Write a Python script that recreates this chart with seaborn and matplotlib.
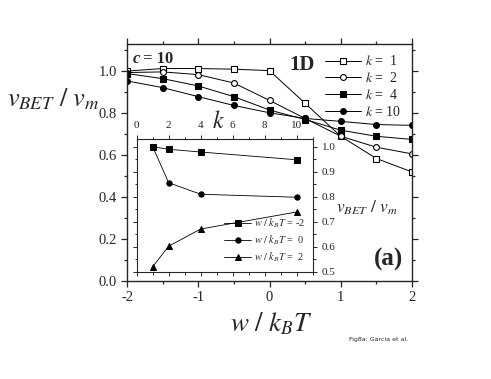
import numpy as np
import pandas as pd
import matplotlib
matplotlib.use("Agg")
import matplotlib.pyplot as plt
import seaborn as sns
from matplotlib.ticker import MultipleLocator

# main panel: v_BET/v_m against w/k_BT for several k
w_vals = [-2, -1.5, -1, -0.5, 0, 0.5, 1, 1.5, 2]
k1 = [1.001, 1.013, 1.013, 1.010, 1.003, 0.847, 0.690, 0.584, 0.520]
k2 = [0.994, 0.997, 0.984, 0.944, 0.861, 0.775, 0.690, 0.638, 0.606]
k4 = [0.989, 0.965, 0.930, 0.879, 0.815, 0.770, 0.719, 0.690, 0.675]
k10 = [0.954, 0.922, 0.879, 0.837, 0.802, 0.775, 0.761, 0.746, 0.742]

# inset: v_BET/v_m against k for several w/k_BT
k_vals = [1, 2, 4, 10]
w_m2 = [1.000, 0.990, 0.979, 0.948]
w_0 = [1.000, 0.856, 0.810, 0.798]
w_p2 = [0.520, 0.602, 0.671, 0.739]

sns.set_style("ticks")
plt.rcParams['font.family'] = ['Liberation Serif', 'DejaVu Serif']
plt.rcParams['mathtext.fontset'] = 'stix'

fig = plt.figure(figsize=(4.91, 3.79), dpi=100)
ax = fig.add_axes([0.2587, 0.2586, 0.5804, 0.6253])

main_series = [
    (k1, 's', 'white', r'$k$ =  1'),
    (k2, 'o', 'white', r'$k$ =  2'),
    (k4, 's', 'black', r'$k$ =  4'),
    (k10, 'o', 'black', r'$k$ = 10'),
]
for vals, mk, fc, lab in main_series:
    sns.lineplot(x=w_vals, y=vals, ax=ax, color='black', lw=0.7, marker=mk,
                 markersize=4.2, markerfacecolor=fc, markeredgecolor='black',
                 markeredgewidth=0.8, label=lab)

ax.set_xlim(-2, 2)
ax.set_ylim(0, 1.13)
ax.xaxis.set_minor_locator(MultipleLocator(0.5))
ax.yaxis.set_minor_locator(MultipleLocator(0.1))
ax.set_xticks([-2, -1, 0, 1, 2])
ax.set_xticklabels(['-2', '-1', '0', '1', '2'])
ax.set_yticks(np.arange(0, 1.01, 0.2))
ax.set_yticklabels(['0.0', '0.2', '0.4', '0.6', '0.8', '1.0'])
ax.tick_params(which='both', direction='out', top=True, right=True, labelsize=10.5, width=0.9)
ax.tick_params(which='major', length=4)
ax.tick_params(which='minor', length=2.5)
for s in ax.spines.values():
    s.set_linewidth(1.0)
    s.set_visible(True)
ax.set_xlabel('')
ax.set_ylabel('')

ax.legend(loc='upper right', frameon=False, fontsize=10, handlelength=2.6,
          handletextpad=0.3, labelspacing=0.2, borderaxespad=0.35)

ax.text(0.02, 0.92, 'c', transform=ax.transAxes, fontsize=12,
        fontweight='bold', fontstyle='italic')
ax.text(0.055, 0.92, '= 10', transform=ax.transAxes, fontsize=12, fontweight='bold')
ax.text(0.57, 0.89, '1D', transform=ax.transAxes, fontsize=15, fontweight='bold')
ax.text(0.865, 0.065, '(a)', transform=ax.transAxes, fontsize=18, fontweight='bold')

fig.text(0.552, 0.125, r'$w\ /\ k_B T$', fontsize=19.5, ha='center')
fig.text(0.015, 0.72, r'$v_{BET}\ /\ v_m$', fontsize=19)
fig.text(0.71, 0.10, 'Fig8a: Garcia et al.', fontsize=4.5, family='DejaVu Sans')

# inset
ins = fig.add_axes([0.2784, 0.2831, 0.3585, 0.3494])
inset_series = [
    (w_m2, 's', r'$w\ /\ k_B T$ = -2'),
    (w_0, 'o', r'$w\ /\ k_B T$ =  0'),
    (w_p2, '^', r'$w\ /\ k_B T$ =  2'),
]
for vals, mk, lab in inset_series:
    sns.lineplot(x=k_vals, y=vals, ax=ins, color='black', lw=0.6, marker=mk,
                 markersize=3.8, markerfacecolor='black', markeredgecolor='black',
                 label=lab)
ins.set_xlim(0, 11)
ins.set_ylim(0.5, 1.03)
ins.xaxis.set_major_locator(MultipleLocator(2))
ins.xaxis.set_minor_locator(MultipleLocator(1))
ins.yaxis.set_minor_locator(MultipleLocator(0.05))
ins.xaxis.tick_top()
ins.yaxis.tick_right()
ins.tick_params(which='both', direction='out', labelsize=8, width=0.7,
                bottom=True, left=True, top=True, right=True)
ins.tick_params(which='major', length=3)
ins.tick_params(which='minor', length=1.8)
ins.set_yticks(np.arange(0.5, 1.01, 0.1))
ins.set_yticklabels(['0.5', '0.6', '0.7', '0.8', '0.9', '1.0'])
ins.set_xlabel('')
ins.set_ylabel('')
for s in ins.spines.values():
    s.set_linewidth(0.8)
    s.set_visible(True)
ins.legend(loc='lower right', frameon=False, fontsize=7.5, handlelength=2.6,
           handletextpad=0.3, labelspacing=0.35, borderaxespad=0.3)

fig.text(0.444, 0.678, r'$k$', fontsize=17, ha='center', va='center')
fig.text(0.685, 0.44, r'$v_{BET}\ /\ v_m$', fontsize=12.5)

fig.savefig('out.png', dpi=100)
